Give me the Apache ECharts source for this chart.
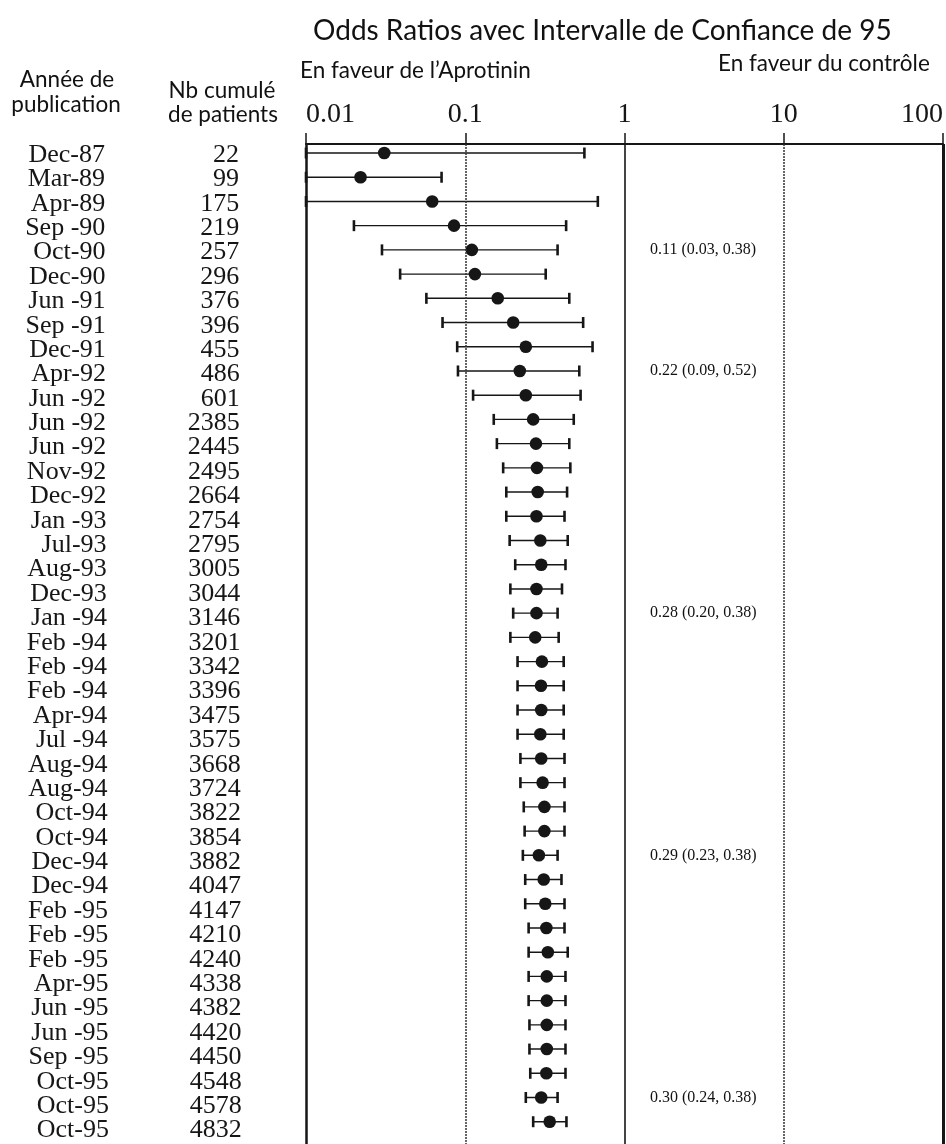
<!DOCTYPE html>
<html>
<head>
<meta charset="utf-8">
<script src="https://cdn.jsdelivr.net/npm/echarts@6/dist/echarts.min.js"></script>
<style>
  html, body { margin: 0; padding: 0; background: #fff; }
  #chart { width: 946px; height: 1144px; }
</style>
</head>
<body>
<div id="chart"></div>
<script>
// Cumulative meta-analysis of aprotinin trials: one row per publication.
const dates = [
  'Dec-87', 'Mar-89', 'Apr-89', 'Sep -90', 'Oct-90', 'Dec-90', 'Jun -91', 'Sep -91',
  'Dec-91', 'Apr-92', 'Jun -92', 'Jun -92', 'Jun -92', 'Nov-92', 'Dec-92', 'Jan -93',
  'Jul-93', 'Aug-93', 'Dec-93', 'Jan -94', 'Feb -94', 'Feb -94', 'Feb -94', 'Apr-94',
  'Jul -94', 'Aug-94', 'Aug-94', 'Oct-94', 'Oct-94', 'Dec-94', 'Dec-94', 'Feb -95',
  'Feb -95', 'Feb -95', 'Apr-95', 'Jun -95', 'Jun -95', 'Sep -95', 'Oct-95', 'Oct-95',
  'Oct-95'
];
const patients = [
  22, 99, 175, 219, 257, 296, 376, 396, 455, 486, 601, 2385, 2445, 2495, 2664, 2754,
  2795, 3005, 3044, 3146, 3201, 3342, 3396, 3475, 3575, 3668, 3724, 3822, 3854, 3882,
  4047, 4147, 4210, 4240, 4338, 4382, 4420, 4450, 4548, 4578, 4832
];
// Cumulative odds ratio and its 95% interval (lower bounds of the first three
// rows run past the axis minimum and are shown truncated at 0.01).
const oddsRatio = [
  0.031, 0.022, 0.062, 0.085, 0.11, 0.115, 0.16, 0.20, 0.24, 0.22, 0.24, 0.267, 0.278,
  0.282, 0.285, 0.28, 0.296, 0.30, 0.28, 0.28, 0.275, 0.303, 0.299, 0.30, 0.296, 0.30,
  0.306, 0.314, 0.314, 0.29, 0.311, 0.318, 0.323, 0.33, 0.325, 0.325, 0.325, 0.325,
  0.323, 0.30, 0.339
];
const ciLow = [
  0.01, 0.01, 0.01, 0.020, 0.03, 0.039, 0.057, 0.072, 0.089, 0.09, 0.112, 0.151, 0.158,
  0.173, 0.181, 0.181, 0.19, 0.206, 0.192, 0.20, 0.192, 0.213, 0.213, 0.213, 0.213,
  0.222, 0.222, 0.233, 0.236, 0.23, 0.238, 0.238, 0.25, 0.25, 0.25, 0.25, 0.253, 0.253,
  0.256, 0.24, 0.267
];
const ciHigh = [
  0.56, 0.071, 0.68, 0.43, 0.38, 0.32, 0.45, 0.55, 0.63, 0.52, 0.53, 0.48, 0.45, 0.457,
  0.436, 0.42, 0.44, 0.426, 0.405, 0.38, 0.386, 0.415, 0.415, 0.415, 0.415, 0.42, 0.42,
  0.42, 0.42, 0.38, 0.402, 0.42, 0.42, 0.44, 0.426, 0.426, 0.426, 0.426, 0.426, 0.38,
  0.432
];
// Rows whose pooled estimate is printed beside the plot (0-based).
const summaryRows = [4, 9, 19, 29, 39];
const tickValues = [0.01, 0.1, 1, 10, 100];
const tickLabels = ['0.01', '0.1', '1', '10', '100'];

const ink = '#161616';
const serif = '"Liberation Serif", "Times New Roman", serif';
const sans = 'Lato, "Open Sans", sans-serif';

// Reference lines at each decade: heavier frame on the outside, stippled
// lines at 0.1 and 10.
const decadeLineStyles = [
  { color: ink, width: 2.5, type: 'solid' },
  { color: '#333', width: 1.5, type: [2, 1] },
  { color: ink, width: 1.6, type: 'solid' },
  { color: '#333', width: 1.5, type: [2, 1] },
  { color: ink, width: 3, type: 'solid' }
];

const rows = dates.map((d, i) => [i, ciLow[i], oddsRatio[i], ciHigh[i]]);

function renderInterval(params, api) {
  const i = api.value(0);
  const pL = api.coord([api.value(1), i]);
  const pO = api.coord([api.value(2), i]);
  const pH = api.coord([api.value(3), i]);
  const cap = 5.5;
  const lineStyle = { stroke: ink, lineWidth: 1.4, fill: null };
  const capStyle = { stroke: ink, lineWidth: 2.6, fill: null };
  return {
    type: 'group',
    children: [
      { type: 'line', shape: { x1: pL[0], y1: pL[1], x2: pH[0], y2: pH[1] }, style: lineStyle },
      { type: 'line', shape: { x1: pL[0], y1: pL[1] - cap, x2: pL[0], y2: pL[1] + cap }, style: capStyle },
      { type: 'line', shape: { x1: pH[0], y1: pH[1] - cap, x2: pH[0], y2: pH[1] + cap }, style: capStyle },
      { type: 'circle', shape: { cx: pO[0], cy: pO[1], r: 6.3 }, style: { fill: ink } }
    ]
  };
}

function renderRowText(params, api) {
  const i = api.value(0);
  // the printed row labels sit a touch lower than the plotted rows further down
  const y = api.coord([1, i])[1] + 2 + i * 0.17;
  const base = { font: '26px ' + serif, fill: ink, textAlign: 'right', align: 'right',
                 textVerticalAlign: 'middle', verticalAlign: 'middle' };
  return {
    type: 'group',
    children: [
      { type: 'text', style: Object.assign({ text: dates[i], x: 105 + i * 0.1, y: y }, base) },
      { type: 'text', style: Object.assign({ text: String(patients[i]), x: 239 + i * 0.07, y: y }, base) }
    ]
  };
}

function renderSummary(params, api) {
  const i = api.value(0);
  const y = api.coord([1, i])[1];
  const txt = oddsRatio[i].toFixed(2) + ' (' + ciLow[i].toFixed(2) + ', ' + ciHigh[i].toFixed(2) + ')';
  return {
    type: 'text',
    style: { text: txt, x: 650, y: y, font: '16px ' + serif, fill: '#111',
             textAlign: 'left', align: 'left', textVerticalAlign: 'middle', verticalAlign: 'middle' }
  };
}

const chart = echarts.init(document.getElementById('chart'), null, { renderer: 'canvas' });

const headerText = function (text, x, y, size, align) {
  return { type: 'text', x: x, y: y, style: { text: text, font: size + 'px ' + sans, fill: '#111',
    textAlign: align, align: align, textVerticalAlign: 'middle', verticalAlign: 'middle' } };
};

chart.setOption({
  animation: false,
  backgroundColor: '#ffffff',
  grid: { left: 306, right: 3, top: 144, bottom: 0 },
  xAxis: {
    type: 'log',
    logBase: 10,
    min: 0.01,
    max: 100,
    position: 'top',
    axisLine: { show: true, onZero: false, lineStyle: { color: ink, width: 2 } },
    axisTick: { show: true, length: 11, lineStyle: { color: ink, width: 1.5 } },
    minorTick: { show: false },
    splitLine: { show: false },
    axisLabel: {
      formatter: function (v) {
        return tickLabels[tickValues.indexOf(tickValues.reduce(function (a, b) {
          return Math.abs(Math.log10(b / v)) < Math.abs(Math.log10(a / v)) ? b : a;
        }))];
      },
      fontFamily: serif,
      fontSize: 28,
      color: ink,
      margin: 15,
      alignMinLabel: 'left',
      alignMaxLabel: 'right'
    }
  },
  yAxis: { type: 'value', inverse: true, min: -0.372, max: 40.92, show: false },
  graphic: [
    headerText('Odds Ratios avec Intervalle de Confiance de 95', 313, 31, 28, 'left'),
    headerText('En faveur de l’Aprotinin', 300, 71, 22.5, 'left'),
    headerText('En faveur du contrôle', 718, 64, 22.5, 'left'),
    headerText('Année de', 67, 80, 22.5, 'center'),
    headerText('publication', 66, 105, 22.5, 'center'),
    headerText('Nb cumulé', 222, 91, 22.5, 'center'),
    headerText('de patients', 223, 115, 22.5, 'center')
  ],
  series: [
    {
      type: 'custom',
      name: 'IC 95%',
      data: rows,
      encode: { x: [1, 2, 3], y: 0 },
      renderItem: renderInterval,
      clip: false,
      z: 3,
      markLine: {
        silent: true,
        symbol: ['none', 'none'],
        label: { show: false },
        data: tickValues.map(function (v, k) { return { xAxis: v, lineStyle: decadeLineStyles[k] }; })
      }
    },
    {
      type: 'custom',
      name: 'rows',
      data: rows,
      encode: { x: 2, y: 0 },
      renderItem: renderRowText,
      clip: false,
      silent: true
    },
    {
      type: 'custom',
      name: 'summary',
      data: summaryRows.map(function (i) { return rows[i]; }),
      encode: { x: 2, y: 0 },
      renderItem: renderSummary,
      clip: false,
      silent: true
    }
  ]
});
</script>
</body>
</html>
